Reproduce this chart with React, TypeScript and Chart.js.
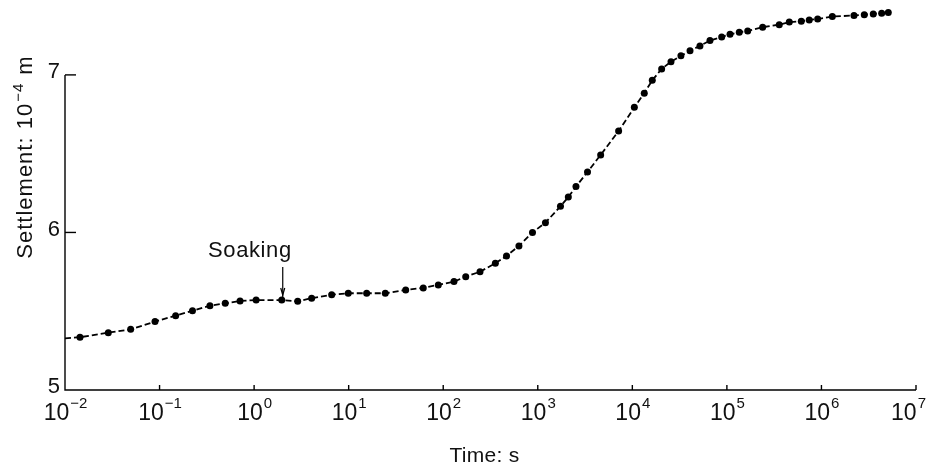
import React, { useEffect, useRef } from "react";
import { Chart, registerables } from "chart.js";

Chart.register(...registerables);

// Time in seconds (log axis) and settlement in 10^-4 m
const TIMES = [
  0.01, 0.0144, 0.0287, 0.0495, 0.0895, 0.148, 0.223, 0.341, 0.495, 0.71,
  1.05, 1.96, 2.89, 4.06, 6.61, 9.9, 15.5, 24.4, 40.1, 61.5,
  88.7, 130, 173, 245, 356, 467, 632, 879, 1205, 1738,
  2104, 2535, 3357, 4624, 7161, 10500, 13370, 16250, 20420, 25640,
  32660, 40740, 51880, 66220, 88100, 107900, 135200, 166000, 238800, 358100,
  457100, 612400, 743000, 912000, 1303000, 2208000, 2838000, 3532000, 4335000, 5093000,
];
const SETTLEMENT = [
  5.328, 5.335, 5.364, 5.385, 5.434, 5.472, 5.503, 5.535, 5.55, 5.565,
  5.571, 5.571, 5.563, 5.583, 5.605, 5.614, 5.614, 5.614, 5.635, 5.648,
  5.667, 5.688, 5.719, 5.751, 5.804, 5.851, 5.914, 6.0, 6.062, 6.166,
  6.225, 6.291, 6.384, 6.492, 6.644, 6.794, 6.884, 6.966, 7.038, 7.084,
  7.121, 7.154, 7.184, 7.218, 7.241, 7.258, 7.271, 7.279, 7.303, 7.319,
  7.335, 7.341, 7.349, 7.354, 7.37, 7.377, 7.381, 7.387, 7.392, 7.396,
];
const X_EXPONENTS = [-2, -1, 0, 1, 2, 3, 4, 5, 6, 7];
const Y_TICKS = [5, 6, 7];
const X_MIN = 0.01;
const X_MAX = 1e7;
const Y_MIN = 5;
const Y_MAX = 7.45;
const SOAKING_TIME = 1.96;
const SOAKING_LABEL = "Soaking";
const X_TITLE = "Time: s";
const Y_TITLE_MAIN = "Settlement: 10";
const Y_TITLE_SUP = "\u22124";
const Y_TITLE_END = " m";

const FONT = '"Liberation Sans", Arial, Helvetica, sans-serif';

const axesPlugin = {
  id: "customAxes",
  afterDraw(chart: any) {
    const { ctx } = chart;
    const x = chart.scales.x;
    const y = chart.scales.y;
    const xl = x.getPixelForValue(X_MIN);
    const xr = x.getPixelForValue(X_MAX);
    const yb = y.getPixelForValue(Y_MIN);
    const yt = y.getPixelForValue(Y_TICKS[Y_TICKS.length - 1]);
    ctx.save();
    ctx.strokeStyle = "#000";
    ctx.fillStyle = "#111";
    ctx.lineWidth = 1.4;
    ctx.setLineDash([]);

    // axis lines
    ctx.beginPath();
    ctx.moveTo(xl, yt);
    ctx.lineTo(xl, yb);
    ctx.lineTo(xr, yb);
    ctx.stroke();

    // y ticks and labels
    ctx.font = `22px ${FONT}`;
    ctx.textAlign = "right";
    ctx.textBaseline = "middle";
    Y_TICKS.forEach((v) => {
      const py = y.getPixelForValue(v);
      if (v !== Y_MIN) {
        ctx.beginPath();
        ctx.moveTo(xl, py);
        ctx.lineTo(xl + 11, py);
        ctx.stroke();
      }
      ctx.fillText(String(v), xl - 5, py - 3);
    });

    // x ticks and labels
    X_EXPONENTS.forEach((e) => {
      const px = x.getPixelForValue(Math.pow(10, e));
      if (e !== -2) {
        ctx.beginPath();
        ctx.moveTo(px, yb);
        ctx.lineTo(px, yb - 5);
        ctx.stroke();
      }
      const base = "10";
      const sup = e < 0 ? "\u2212" + Math.abs(e) : String(e);
      ctx.font = `23px ${FONT}`;
      const wb = ctx.measureText(base).width;
      ctx.font = `15px ${FONT}`;
      const ws = ctx.measureText(sup).width;
      let start = px - (wb + ws) / 2;
      start = Math.min(start, chart.width - 4 - (wb + ws + 1));
      ctx.textAlign = "left";
      ctx.textBaseline = "alphabetic";
      ctx.font = `23px ${FONT}`;
      ctx.fillText(base, start, yb + 30);
      ctx.font = `15px ${FONT}`;
      ctx.fillText(sup, start + wb + 1, yb + 18);
    });

    // x title
    ctx.font = `21px ${FONT}`;
    (ctx as any).letterSpacing = "0.3px";
    ctx.textAlign = "center";
    ctx.textBaseline = "alphabetic";
    ctx.fillText(X_TITLE, (xl + xr) / 2 - 6, yb + 72);

    // y title (rotated)
    ctx.save();
    ctx.translate(32, 158);
    ctx.rotate(-Math.PI / 2);
    (ctx as any).letterSpacing = "1px";
    ctx.font = `22px ${FONT}`;
    const w1 = ctx.measureText(Y_TITLE_MAIN).width;
    const w3 = ctx.measureText(Y_TITLE_END).width;
    ctx.font = `15px ${FONT}`;
    const w2 = ctx.measureText(Y_TITLE_SUP).width;
    let sx = -(w1 + w2 + w3) / 2;
    ctx.textAlign = "left";
    ctx.font = `22px ${FONT}`;
    ctx.fillText(Y_TITLE_MAIN, sx, 0);
    sx += w1;
    ctx.font = `15px ${FONT}`;
    ctx.fillText(Y_TITLE_SUP, sx + 1, -9);
    sx += w2 + 2;
    ctx.font = `22px ${FONT}`;
    ctx.fillText(Y_TITLE_END, sx, 0);
    ctx.restore();

    // Soaking annotation
    const si = TIMES.indexOf(SOAKING_TIME);
    const sxp = x.getPixelForValue(SOAKING_TIME);
    const syp = y.getPixelForValue(SETTLEMENT[si]);
    ctx.lineWidth = 1.2;
    ctx.beginPath();
    ctx.moveTo(sxp + 1, syp - 33);
    ctx.lineTo(sxp + 1, syp - 3);
    ctx.stroke();
    ctx.beginPath();
    ctx.moveTo(sxp - 1, syp - 12);
    ctx.lineTo(sxp + 1, syp - 5);
    ctx.lineTo(sxp + 3, syp - 12);
    ctx.stroke();
    (ctx as any).letterSpacing = "0.6px";
    ctx.font = `22px ${FONT}`;
    ctx.textAlign = "right";
    ctx.textBaseline = "alphabetic";
    ctx.fillText(SOAKING_LABEL, sxp + 10, syp - 43);
    ctx.restore();
  },
};

export default function App() {
  const ref = useRef<HTMLCanvasElement | null>(null);
  useEffect(() => {
    if (!ref.current) return;
    const chart = new Chart(ref.current, {
      type: "line",
      data: {
        datasets: [
          {
            data: TIMES.map((t, i) => ({ x: t, y: SETTLEMENT[i] })),
            borderColor: "#000",
            borderWidth: 1.8,
            borderDash: [6, 3],
            pointRadius: TIMES.map((_, i) => (i === 0 ? 0 : 3.5)),
            pointBackgroundColor: "#000",
            pointBorderWidth: 0,
            tension: 0,
            fill: false,
          },
        ],
      },
      options: {
        responsive: false,
        animation: false,
        layout: { padding: { left: 65, right: 14, top: 4, bottom: 78 } },
        plugins: { legend: { display: false }, tooltip: { enabled: false } },
        scales: {
          x: { type: "logarithmic", min: X_MIN, max: X_MAX, display: false },
          y: { type: "linear", min: Y_MIN, max: Y_MAX, display: false },
        },
      },
      plugins: [axesPlugin],
    } as any);
    return () => chart.destroy();
  }, []);
  return (
    <div style={{ position: "absolute", left: 0, top: 0, width: 930, height: 468, background: "#fff" }}>
      <canvas ref={ref} width={930} height={468} />
    </div>
  );
}
